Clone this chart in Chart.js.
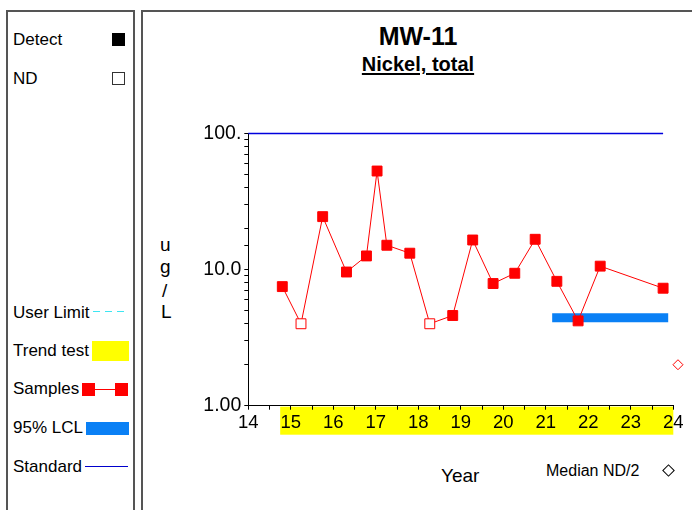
<!DOCTYPE html>
<html>
<head>
<meta charset="utf-8">
<script src="https://cdn.jsdelivr.net/npm/chart.js@4"></script>
<style>
  html, body { margin: 0; padding: 0; background: #fff; }
  body { width: 692px; height: 510px; position: relative; overflow: hidden;
         font-family: "Liberation Sans", Arial, sans-serif; color: #000; }
  .abs { position: absolute; white-space: nowrap; line-height: 1; }
  #leftPanel { position: absolute; left: 6px; top: 10px; width: 125px; height: 540px; border: 2px solid #555; }
  #rightPanel { position: absolute; left: 141px; top: 10px; width: 600px; height: 540px; border: 2px solid #555; }
  .leg { font-size: 17px; left: 13px; }
  #chartBox { position: absolute; left: 0; top: 0; width: 692px; height: 510px; }
</style>
</head>
<body>
<div id="leftPanel"></div>
<div id="rightPanel"></div>

<!-- left-hand key -->
<div class="abs leg" style="top:31px">Detect</div>
<div class="abs" style="left:112px;top:33px;width:13px;height:13px;background:#000"></div>
<div class="abs leg" style="top:70px">ND</div>
<div class="abs" style="left:112px;top:72px;width:11px;height:11px;border:1px solid #333;background:#fff"></div>

<div class="abs leg" style="top:304px">User Limit</div>
<div class="abs" style="left:93px;top:311px;width:36px;height:1px;background:repeating-linear-gradient(90deg,#3de6f2 0 7px,transparent 7px 12px)"></div>
<div class="abs leg" style="top:342px">Trend test</div>
<div class="abs" style="left:92px;top:341px;width:37px;height:20px;background:#ffff00"></div>
<div class="abs leg" style="top:380px">Samples</div>
<div class="abs" style="left:89px;top:389px;width:33px;height:1px;background:#ff0000"></div>
<div class="abs" style="left:82px;top:383px;width:13px;height:13px;background:#ff0000"></div>
<div class="abs" style="left:115px;top:383px;width:13px;height:13px;background:#ff0000"></div>
<div class="abs leg" style="top:419px">95% LCL</div>
<div class="abs" style="left:86px;top:422px;width:43px;height:13px;background:#0a80f5"></div>
<div class="abs leg" style="top:458px">Standard</div>
<div class="abs" style="left:85px;top:466px;width:43px;height:1px;background:#0000cc"></div>

<!-- titles -->
<div class="abs" style="left:318px;width:200px;text-align:center;top:24px;font-size:25px;font-weight:bold">MW-11</div>
<div class="abs" style="left:318px;width:200px;text-align:center;top:54px;font-size:20px;font-weight:bold;text-decoration:underline;text-underline-offset:2px;text-decoration-thickness:2px">Nickel, total</div>

<!-- y-axis unit, stacked -->
<div class="abs" style="left:160px;top:235px;font-size:19px">u</div>
<div class="abs" style="left:160px;top:257px;font-size:19px">g</div>
<div class="abs" style="left:162px;top:281px;font-size:19px">/</div>
<div class="abs" style="left:161px;top:302px;font-size:19px">L</div>

<div class="abs" style="left:441px;top:466px;font-size:19px">Year</div>
<div class="abs" style="left:546px;top:463px;font-size:16px">Median ND/2</div>
<div class="abs" style="left:664px;top:466px;width:7px;height:7px;border:1px solid #000;transform:rotate(45deg)"></div>

<div id="chartBox"><canvas id="chart" width="692" height="510"></canvas></div>

<script>
// Sampling dates (decimal year, 20xx) and nickel results, ug/L
const sampleYears  = [14.80, 15.24, 15.75, 16.31, 16.78, 17.03, 17.26, 17.80, 18.27,
                      18.81, 19.28, 19.76, 20.27, 20.75, 21.26, 21.76, 22.28, 23.76];
const sampleValues = [7.5, 4.0, 24.5, 9.6, 12.6, 53.0, 15.1, 13.2, 4.0,
                      4.6, 16.5, 7.9, 9.4, 16.7, 8.2, 4.2, 10.6, 7.3];
// 1 = non-detect (reporting limit shown)
const sampleND     = [0, 1, 0, 0, 0, 0, 0, 0, 1,
                      0, 0, 0, 0, 0, 0, 0, 0, 0];

// 95% lower confidence limit segment
const lclYears  = [21.15, 23.88];
const lclValue  = 4.43;

// Standard line
const standardYears = [14, 23.76];
const standardValue = 100;

// Trend-test window
const trendYears = [14.75, 24];

// Median of non-detects / 2
const medianNDYear  = 24.11;
const medianNDValue = 2.0;

// Axis ticks
const yTickValues = [1, 10, 100];
const yTickText   = ['1.00', '10.0', '100.'];
const xMin = 14, xMax = 24;

const RED = '#ff0000';
const FONT = '"Liberation Sans", Arial, sans-serif';

const trendBand = {
  id: 'trendBand',
  beforeDraw(chart) {
    const { ctx, chartArea, scales } = chart;
    const x0 = scales.x.getPixelForValue(trendYears[0]);
    const x1 = scales.x.getPixelForValue(trendYears[1]);
    ctx.save();
    ctx.fillStyle = '#ffff00';
    ctx.fillRect(x0, chartArea.bottom + 1, x1 - x0, 28);
    ctx.restore();
  }
};

new Chart(document.getElementById('chart'), {
  type: 'line',
  data: {
    datasets: [
      {
        label: 'Samples',
        data: sampleYears.map((x, i) => ({ x, y: sampleValues[i] })),
        borderColor: RED,
        borderWidth: 1,
        pointStyle: 'rect',
        pointRadius: 7,
        pointBorderWidth: 1,
        pointBorderColor: RED,
        pointBackgroundColor: (c) => sampleND[c.dataIndex] ? '#ffffff' : RED,
        order: 0
      },
      {
        label: '95% LCL',
        data: lclYears.map((x) => ({ x, y: lclValue })),
        borderColor: '#0a80f5',
        borderWidth: 9,
        borderCapStyle: 'butt',
        pointRadius: 0,
        order: 3
      },
      {
        label: 'Standard',
        data: standardYears.map((x) => ({ x, y: standardValue })),
        borderColor: '#0000dd',
        borderWidth: 1.5,
        pointRadius: 0,
        clip: false,
        order: 2
      },
      {
        label: 'Median ND/2',
        data: [{ x: medianNDYear, y: medianNDValue }],
        showLine: false,
        pointStyle: 'rectRot',
        pointRadius: 5,
        pointBorderWidth: 1,
        pointBorderColor: RED,
        pointBackgroundColor: '#ffffff',
        clip: false,
        order: 1
      }
    ]
  },
  options: {
    responsive: false,
    animation: false,
    layout: { padding: { left: 188.3, top: 133.5, right: 18.7, bottom: 64.3 } },
    plugins: { legend: { display: false }, tooltip: { enabled: false } },
    scales: {
      x: {
        type: 'linear',
        min: xMin, max: xMax,
        afterFit: (s) => { s.height = 40; },
        border: { display: true, color: '#000', width: 1 },
        grid: { drawOnChartArea: false, drawTicks: true, tickLength: 4, tickColor: '#000', tickWidth: 1 },
        ticks: {
          stepSize: 0.5, autoSkip: false, maxRotation: 0, padding: 2,
          color: '#000', font: { family: FONT, size: 18.5 },
          callback: (v) => Number.isInteger(v) ? String(v) : ''
        }
      },
      y: {
        type: 'logarithmic',
        min: 1, max: 100,
        afterFit: (s) => { s.width = 60; },
        border: { display: true, color: '#000', width: 1 },
        grid: { drawOnChartArea: false, drawTicks: true, tickLength: 4, tickColor: '#000', tickWidth: 1 },
        ticks: {
          autoSkip: false, padding: 3,
          color: '#000', font: { family: FONT, size: 19.5 },
          callback: (v) => {
            const i = yTickValues.indexOf(v);
            return i >= 0 ? yTickText[i] : '';
          }
        }
      }
    }
  },
  plugins: [trendBand]
});
</script>
</body>
</html>
